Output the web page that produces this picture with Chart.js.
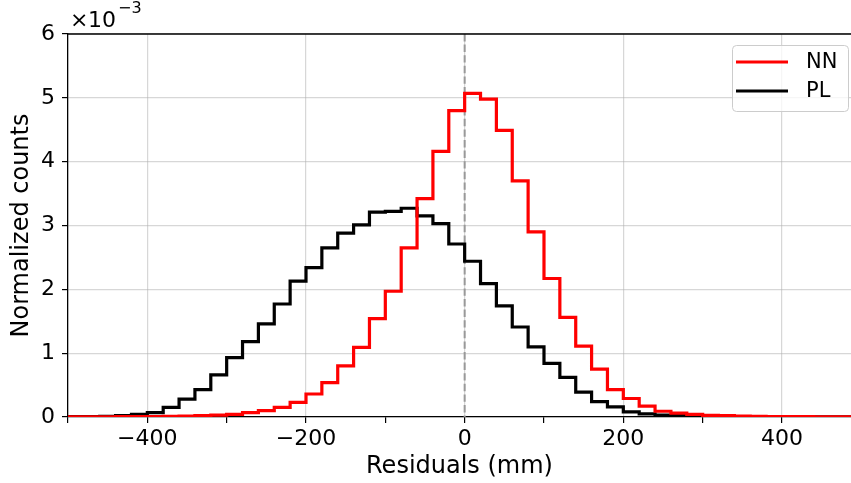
<!DOCTYPE html>
<html>
<head>
<meta charset="utf-8">
<script src="https://cdn.jsdelivr.net/npm/chart.js@4.4.1/dist/chart.umd.min.js"></script>
<style>
  html, body { margin: 0; padding: 0; background: #fff; }
  #wrap { width: 851px; height: 483px; }
</style>
</head>
<body>
<div id="wrap"><canvas id="chart" width="851" height="483"></canvas></div>
<script>
// histogram bin edges (mm), 20 mm bins
const binEdges = [
  -500, -480, -460, -440, -420, -400, -380, -360, -340, -320,
  -300, -280, -260, -240, -220, -200, -180, -160, -140, -120,
  -100, -80, -60, -40, -20, 0, 20, 40, 60, 80,
  100, 120, 140, 160, 180, 200, 220, 240, 260, 280,
  300, 320, 340, 360, 380, 400, 420, 440, 460, 480, 500
];

// normalized counts, in units of 1e-3
const countsNN = [
  0.002, 0.003, 0.004, 0.005, 0.006, 0.008, 0.01, 0.015, 0.02, 0.03,
  0.04, 0.07, 0.10, 0.15, 0.23, 0.36, 0.54, 0.80, 1.09, 1.54,
  1.97, 2.65, 3.42, 4.16, 4.80, 5.07, 4.98, 4.49, 3.70, 2.90,
  2.17, 1.56, 1.11, 0.75, 0.43, 0.29, 0.17, 0.09, 0.06, 0.04,
  0.025, 0.02, 0.015, 0.01, 0.008, 0.006, 0.005, 0.004, 0.003, 0.002
];
const countsPL = [
  0.005, 0.008, 0.012, 0.02, 0.04, 0.07, 0.15, 0.28, 0.43, 0.66,
  0.93, 1.18, 1.46, 1.77, 2.13, 2.34, 2.65, 2.88, 3.01, 3.21,
  3.22, 3.27, 3.15, 3.03, 2.71, 2.44, 2.09, 1.74, 1.41, 1.10,
  0.84, 0.62, 0.39, 0.24, 0.16, 0.08, 0.05, 0.03, 0.02, 0.01,
  0.008, 0.005, 0.004, 0.003, 0.002, 0.002, 0.001, 0.001, 0.001, 0.001
];

const xMajorTicks = [-400, -200, 0, 200, 400];
const yTicks = [0, 1, 2, 3, 4, 5, 6];

const FONT = "'DejaVu Sans', sans-serif";
const GRID = 'rgba(176,176,176,0.5)';

// step outline: each edge carries the value of the bin that starts there
function stepPoints(counts) {
  return binEdges.map((e, i) => ({ x: e, y: counts[Math.min(i, counts.length - 1)] }));
}

const minus = v => String(v).replace('-', '\u2212');

const extras = {
  id: 'extras',
  beforeDatasetsDraw(chart) {
    const { ctx, chartArea: a, scales: { x } } = chart;
    const px = x.getPixelForValue(0);
    ctx.save();
    ctx.strokeStyle = '#999999';
    ctx.lineWidth = 2;
    ctx.setLineDash([7.4, 3.2]);
    ctx.beginPath();
    ctx.moveTo(px, a.top);
    ctx.lineTo(px, a.bottom);
    ctx.stroke();
    ctx.restore();
  },
  afterDraw(chart) {
    const { ctx, chartArea: a } = chart;
    ctx.save();
    // top spine
    ctx.strokeStyle = '#000';
    ctx.lineWidth = 1.3;
    ctx.beginPath();
    ctx.moveTo(a.left, a.top);
    ctx.lineTo(a.right, a.top);
    ctx.stroke();

    // offset text ×10^-3
    ctx.fillStyle = '#000';
    ctx.textBaseline = 'alphabetic';
    ctx.textAlign = 'left';
    ctx.font = '22px ' + FONT;
    ctx.fillText('\u00d7', a.left + 2, 27);
    ctx.fillText('10', a.left + 20, 27);
    ctx.font = '16px ' + FONT;
    ctx.fillText('\u22123', a.left + 50, 13);

    // legend
    const bx = 732, by = 45, bw = 116, bh = 66;
    ctx.fillStyle = 'rgba(255,255,255,0.8)';
    ctx.strokeStyle = '#cccccc';
    ctx.lineWidth = 1;
    ctx.beginPath();
    ctx.roundRect(bx + 0.5, by + 0.5, bw, bh, 4);
    ctx.fill();
    ctx.stroke();
    ctx.font = '21px ' + FONT;
    ctx.textBaseline = 'middle';
    chart.data.datasets.forEach((ds, i) => {
      const ly = 62 + i * 29;
      ctx.strokeStyle = ds.borderColor;
      ctx.lineWidth = 3;
      ctx.beginPath();
      ctx.moveTo(736, ly);
      ctx.lineTo(788, ly);
      ctx.stroke();
      ctx.fillStyle = '#000';
      ctx.fillText(ds.label, 806, ly + 1);
    });
    ctx.restore();
  }
};

new Chart(document.getElementById('chart'), {
  type: 'line',
  data: {
    datasets: [
      { label: 'NN', data: stepPoints(countsNN), borderColor: '#ff0000', borderWidth: 3.2, stepped: true, pointRadius: 0, fill: false },
      { label: 'PL', data: stepPoints(countsPL), borderColor: '#000000', borderWidth: 3.2, stepped: true, pointRadius: 0, fill: false }
    ]
  },
  options: {
    responsive: false,
    devicePixelRatio: 1,
    animation: false,
    layout: { padding: { top: 34, right: 0, left: 0, bottom: 0 } },
    plugins: { legend: { display: false }, tooltip: { enabled: false } },
    scales: {
      x: {
        type: 'linear',
        min: -500,
        max: 487,
        afterFit: s => { s.height = 66; },
        ticks: {
          stepSize: 100,
          includeBounds: false,
          autoSkip: false,
          maxRotation: 0,
          padding: 3,
          color: '#000',
          font: { family: FONT, size: 22 },
          callback: v => xMajorTicks.includes(v) ? minus(v) : ''
        },
        grid: {
          color: c => xMajorTicks.includes(c.tick.value) ? GRID : 'rgba(0,0,0,0)',
          lineWidth: 1.2,
          tickColor: '#000',
          tickLength: 6,
          tickWidth: 1.2
        },
        border: { color: '#000', width: 1.3 },
        title: { display: true, text: 'Residuals (mm)', color: '#000', font: { family: FONT, size: 24 }, padding: { top: 0, bottom: 2 } }
      },
      y: {
        min: 0,
        max: 6,
        afterFit: s => { s.width = 68; },
        afterBuildTicks: s => { s.ticks = yTicks.map(v => ({ value: v })); },
        ticks: {
          padding: 7,
          color: '#000',
          font: { family: FONT, size: 22 },
          callback: v => String(v)
        },
        grid: {
          color: GRID,
          lineWidth: 1.2,
          tickColor: '#000',
          tickLength: 6,
          tickWidth: 1.2
        },
        border: { color: '#000', width: 1.3 },
        title: { display: true, text: 'Normalized counts', color: '#000', font: { family: FONT, size: 24 }, padding: { top: 7, bottom: 0 } }
      }
    }
  },
  plugins: [extras]
});
</script>
</body>
</html>
